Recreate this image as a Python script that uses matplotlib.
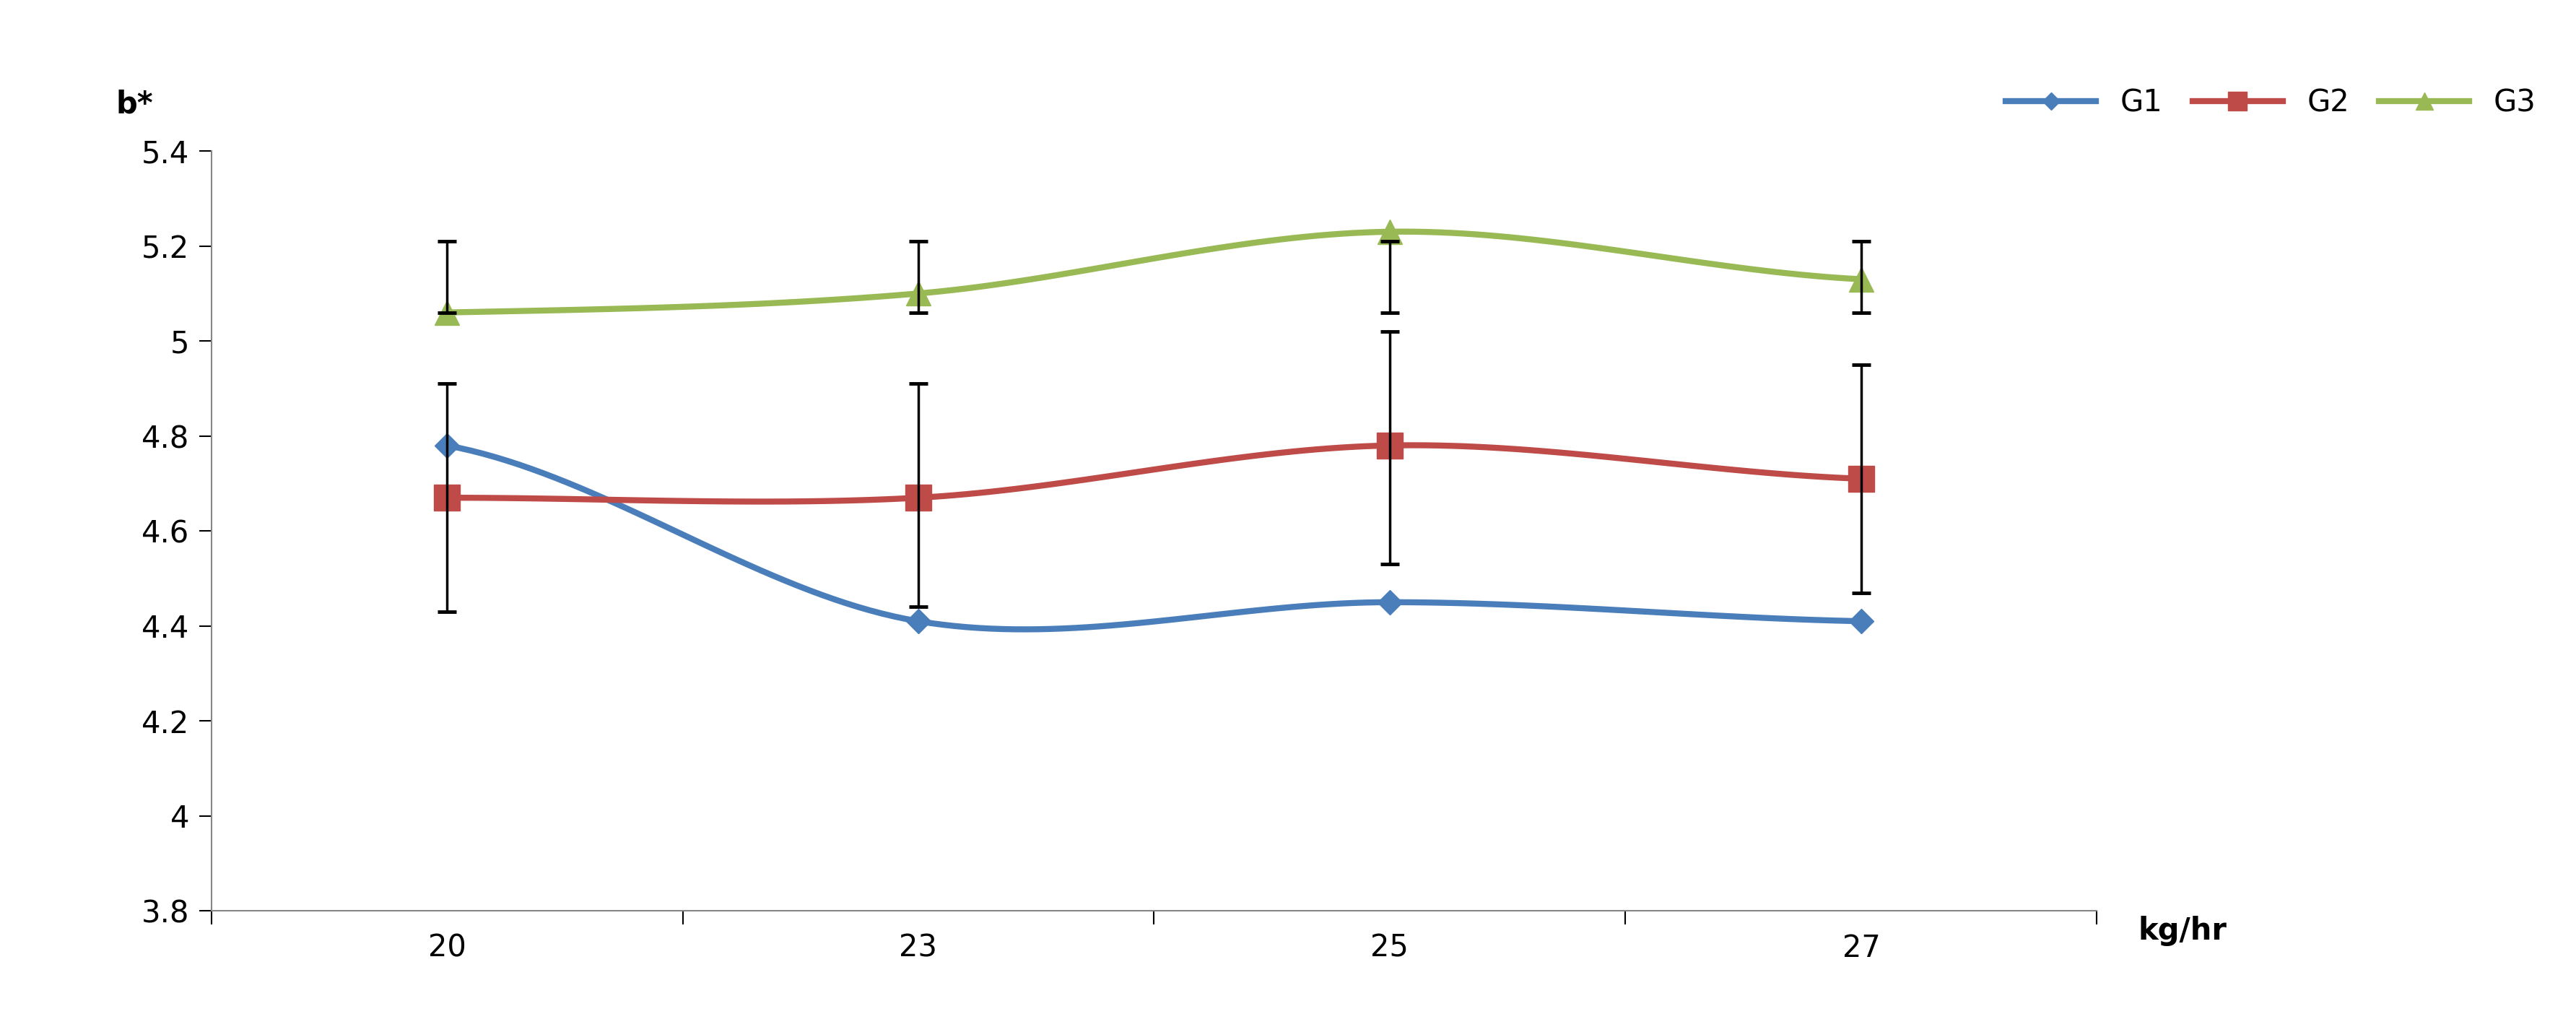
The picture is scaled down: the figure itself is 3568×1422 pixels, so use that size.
import numpy as np
import matplotlib.pyplot as plt

categories = ["20", "23", "25", "27"]
g1 = [4.78, 4.41, 4.45, 4.41]
g2 = [4.67, 4.67, 4.78, 4.71]
g3 = [5.06, 5.10, 5.23, 5.13]
# error bar ends (low, high)
g2_err_low = [4.43, 4.44, 4.53, 4.47]
g2_err_high = [4.91, 4.91, 5.02, 4.95]
g3_err_low = [5.06, 5.06, 5.06, 5.06]
g3_err_high = [5.21, 5.21, 5.21, 5.21]


def smooth(x, y, n=40):
    # Catmull-Rom style smoothing like Excel "smoothed line"
    x = np.asarray(x, float)
    y = np.asarray(y, float)
    px = np.concatenate([[2 * x[0] - x[1]], x, [2 * x[-1] - x[-2]]])
    py = np.concatenate([[y[0]], y, [y[-1]]])
    xs, ys = [], []
    t = np.linspace(0, 1, n)
    for i in range(1, len(px) - 2):
        for p, out in ((px, xs), (py, ys)):
            p0, p1, p2, p3 = p[i - 1], p[i], p[i + 1], p[i + 2]
            out.extend(0.5 * ((2 * p1) + (-p0 + p2) * t
                              + (2 * p0 - 5 * p1 + 4 * p2 - p3) * t ** 2
                              + (-p0 + 3 * p1 - 3 * p2 + p3) * t ** 3))
    return xs, ys


fig = plt.figure(figsize=(35.68, 14.22), dpi=100)
ax = fig.add_axes([0.082, 0.113, 0.732, 0.74])

x = np.arange(len(categories)) + 0.5
series = [
    ("G1", g1, "#4a7ebb", "D", 17),
    ("G2", g2, "#be4b48", "s", 26),
    ("G3", g3, "#98b954", "^", 24),
]
for name, vals, color, marker, ms in series:
    sx, sy = smooth(x, vals)
    ax.plot(sx, sy, color=color, linewidth=6, zorder=3)
    ax.plot(x, vals, linestyle="none", marker=marker, markersize=ms,
            color=color, zorder=4)
    ax.plot([], [], color=color, linewidth=6, marker=marker,
            markersize=ms * 0.7, label=name)

for lo, hi in ((g2_err_low, g2_err_high), (g3_err_low, g3_err_high)):
    ax.vlines(x, lo, hi, color="black", linewidth=2.5, zorder=5)
    ax.hlines(lo, x - 0.02, x + 0.02, color="black", linewidth=3.5, zorder=5)
    ax.hlines(hi, x - 0.02, x + 0.02, color="black", linewidth=3.5, zorder=5)

ax.set_xlim(0, 4)
ax.set_ylim(3.8, 5.4)
ax.set_yticks(np.arange(3.8, 5.41, 0.2))
ax.set_yticklabels(["3.8", "4", "4.2", "4.4", "4.6", "4.8", "5", "5.2", "5.4"])
ax.set_xticks(np.arange(0, 5))
ax.set_xticklabels([])
ax.set_xticks(x, minor=True)
ax.set_xticklabels(categories, minor=True)
ax.tick_params(axis="x", which="minor", length=0, pad=22, labelsize=30)
ax.tick_params(axis="x", which="major", length=14, width=1.5, direction="out")
ax.tick_params(axis="y", length=12, width=1.5, labelsize=30, pad=10)
for s in ("top", "right"):
    ax.spines[s].set_visible(False)
for s in ("left", "bottom"):
    ax.spines[s].set_color("#868686")
    ax.spines[s].set_linewidth(1.5)

fig.text(0.045, 0.89, "b*", fontsize=30, fontweight="bold")
fig.text(0.83, 0.085, "kg/hr", fontsize=30, fontweight="bold")
fig.legend(loc="center right", bbox_to_anchor=(0.995, 0.90), ncol=3,
           frameon=False, fontsize=30, handlelength=3, columnspacing=1.0)

fig.savefig("out.png", dpi=100)
